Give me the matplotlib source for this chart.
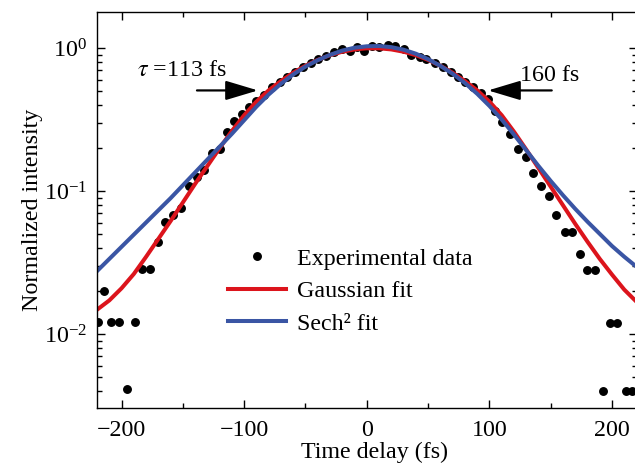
import matplotlib
matplotlib.use("Agg")
import matplotlib.pyplot as plt
import numpy as np
from matplotlib.ticker import LogLocator, MultipleLocator, NullFormatter

plt.rcParams['font.family'] = ['Liberation Serif', 'DejaVu Serif']
plt.rcParams['mathtext.fontset'] = 'stix'
plt.rcParams['font.size'] = 17.3

# ---- data ----
delay = [-219.5, -214, -208.5, -202, -195.5, -189, -183, -176.5, -170.3, -164.3,
         -157.8, -151.3, -145.3, -138.8, -132.6, -126.5, -120, -114.3, -108.5, -102,
         -96, -90, -84, -77.7, -71, -65, -58.7, -52, -45.5, -39.5,
         -33, -26.5, -20, -14, -8, -2, 4, 10, 17, 23,
         30, 36.4, 43, 48.6, 55.4, 62, 68.5, 74.4, 80.4, 86.6,
         92.9, 98.9, 104.3, 110.6, 117.1, 123.3, 129.6, 135.6, 142.4, 148.6,
         154.6, 161.4, 167.6, 173.6, 179.5, 185.8, 192.6, 198, 204, 211, 216.5]
intensity = [0.0121, 0.0201, 0.0121, 0.0121, 0.0041, 0.0121, 0.0283, 0.0283, 0.044, 0.061,
             0.068, 0.0757, 0.109, 0.125, 0.140, 0.185, 0.197, 0.258, 0.31, 0.345,
             0.389, 0.428, 0.469, 0.531, 0.582, 0.631, 0.684, 0.74, 0.781, 0.834,
             0.879, 0.942, 0.979, 0.95, 1.02, 0.96, 1.04, 1.02, 1.05, 1.03,
             0.98, 0.893, 0.87, 0.834, 0.78, 0.74, 0.684, 0.631, 0.582, 0.531,
             0.482, 0.437, 0.365, 0.305, 0.25, 0.196, 0.172, 0.133, 0.108, 0.092,
             0.068, 0.052, 0.052, 0.0364, 0.0281, 0.0281, 0.0040, 0.0120, 0.0120, 0.0040, 0.0040]

fit_delay = [-220, -210, -200, -190, -180, -170, -160, -150, -140, -130, -120, -110,
             -100, -90, -80, -70, -60, -50, -40, -30, -20, -10, 0,
             10, 20, 30, 40, 50, 60, 70, 80, 90, 100, 110,
             120, 130, 140, 150, 160, 170, 180, 190, 200, 210, 220]
# log10 of the fitted curves
gauss_log = [-1.83, -1.765, -1.68, -1.58, -1.46, -1.335, -1.21, -1.08, -0.95, -0.825, -0.70, -0.58,
             -0.47, -0.375, -0.296, -0.231, -0.173, -0.124, -0.083, -0.050, -0.026, -0.010, -0.002,
             -0.002, -0.010, -0.026, -0.050, -0.083, -0.124, -0.173, -0.231, -0.296, -0.375, -0.47,
             -0.585, -0.71, -0.84, -0.97, -1.10, -1.23, -1.355, -1.475, -1.585, -1.69, -1.775]
sech_log = [-1.56, -1.475, -1.39, -1.305, -1.22, -1.135, -1.05, -0.96, -0.87, -0.78, -0.69, -0.60,
            -0.505, -0.41, -0.325, -0.25, -0.185, -0.13, -0.085, -0.048, -0.018, 0.002, 0.012,
            0.014, 0.006, -0.012, -0.04, -0.078, -0.125, -0.18, -0.245, -0.32, -0.405, -0.50,
            -0.605, -0.715, -0.825, -0.93, -1.03, -1.125, -1.215, -1.30, -1.385, -1.46, -1.53]

gauss_fit = 10 ** np.array(gauss_log)
sech_fit = 10 ** np.array(sech_log)

fig = plt.figure(figsize=(6.35, 4.71), dpi=100)
ax = fig.add_axes([0.1528, 0.1338, 0.8497, 0.8407])

ax.plot(delay, intensity, 'o', color='black', markersize=5.4, label='Experimental data')
ax.plot(fit_delay, gauss_fit, color='#dc141c', lw=2.9, label='Gaussian fit')
ax.plot(fit_delay, sech_fit, color='#3a55a4', lw=2.9, label='Sech\u00b2 fit')

ax.set_yscale('log')
ax.set_xlim(-220, 220)
ax.set_ylim(0.00304, 1.785)

ax.xaxis.set_major_locator(MultipleLocator(100))
ax.xaxis.set_minor_locator(MultipleLocator(50))
ax.yaxis.set_major_locator(LogLocator(base=10))
ax.yaxis.set_minor_locator(LogLocator(base=10, subs=np.arange(2, 10)))
ax.yaxis.set_minor_formatter(NullFormatter())
ax.tick_params(which='both', direction='in', top=True, right=True, width=1.0)
ax.tick_params(which='major', length=5.5)
ax.tick_params(which='minor', length=3.5)
ax.tick_params(axis='x', which='major', pad=9)
ax.tick_params(axis='y', which='major', pad=7)
for s in ax.spines.values():
    s.set_linewidth(1.0)

ax.set_xlabel('Time delay (fs)', labelpad=0)
ax.xaxis.label.set_x(0.515)
ax.set_ylabel('Normalized intensity', labelpad=1)

# FWHM markers
arrow = dict(arrowstyle='-|>,head_length=0.8,head_width=0.24', color='black',
             lw=1.6, mutation_scale=25, shrinkA=0, shrinkB=0)
ax.annotate('', xy=(-88.8, 0.505), xytext=(-138.5, 0.505), arrowprops=arrow)
ax.annotate('', xy=(98.9, 0.505), xytext=(150.8, 0.505), arrowprops=arrow)
ax.text(-187.4, 0.70, r'$\tau$ =113 fs', va='center', ha='left')
ax.text(124.7, 0.647, '160 fs', va='center', ha='left')

ax.legend(loc='upper left', bbox_to_anchor=(0.225, 0.429), frameon=False,
          numpoints=1, handlelength=2.4, handletextpad=0.48, labelspacing=0.45,
          borderaxespad=0)

fig.savefig('out.png', dpi=100)
